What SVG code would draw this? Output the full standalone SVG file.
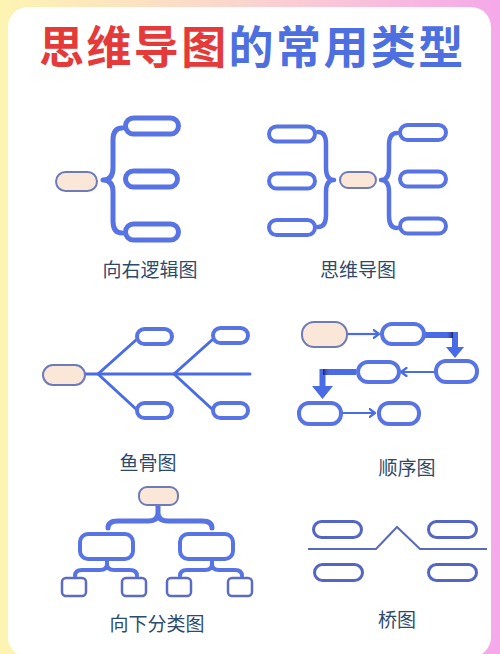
<svg xmlns="http://www.w3.org/2000/svg" width="500" height="654" viewBox="0 0 500 654">
  <defs>
    <linearGradient id="bg" x1="0" y1="0" x2="1" y2="0">
      <stop offset="0" stop-color="#fdf4b2"/>
      <stop offset="0.5" stop-color="#fbd3cf"/>
      <stop offset="1" stop-color="#f5a8ea"/>
    </linearGradient>
    <linearGradient id="shadeR" x1="0" y1="0" x2="1" y2="0">
      <stop offset="0" stop-color="#4a6be6" stop-opacity="0"/>
      <stop offset="1" stop-color="#1b2566"/>
    </linearGradient>
    <linearGradient id="shadeL" x1="1" y1="0" x2="0" y2="0">
      <stop offset="0" stop-color="#4a6be6" stop-opacity="0"/>
      <stop offset="1" stop-color="#1b2566"/>
    </linearGradient>
    <marker id="open" markerWidth="8" markerHeight="10" refX="6.5" refY="5" orient="auto" markerUnits="userSpaceOnUse">
      <path d="M1,1 L6.5,5 L1,9" fill="none" stroke="#4a6be6" stroke-width="2.2" stroke-linecap="round" stroke-linejoin="round"/>
    </marker>
  </defs>
  <style>
    .thick { fill: #ffffff; stroke: #5874e4; stroke-width: 5; }
    .mid { fill: #ffffff; stroke: #5874e4; stroke-width: 4; }
    .thin { fill: #ffffff; stroke: #5a6cc6; stroke-width: 2.5; }
    .bridge { fill: #ffffff; stroke: #5566c2; stroke-width: 3; }
    .peach { fill: #fbe7d8; stroke: #6e7bb8; stroke-width: 2; }
    .brace { fill: none; stroke: #5874e4; stroke-width: 5; stroke-linecap: round; stroke-linejoin: round; }
    .line { fill: none; stroke: #4a6be6; stroke-width: 3; stroke-linecap: round; }
    .arrow { fill: none; stroke: #4a6be6; stroke-width: 2.2; }
    .fat { fill: none; stroke: #4a6be6; stroke-width: 6; }
    .head { fill: #4a6be6; }
    .label { font-family: "Noto Sans CJK SC", "Noto Sans", sans-serif; font-size: 19px; fill: #2d4a6c; text-anchor: middle; }
    .title { font-family: "Noto Sans CJK SC", "Noto Sans", sans-serif; font-size: 45px; font-weight: bold; }
  </style>

  <rect x="0" y="0" width="500" height="654" fill="url(#bg)"/>
  <rect x="8" y="7" width="483" height="650" rx="20" fill="#ffffff"/>

  <text class="title" x="39" y="64" letter-spacing="2.4"><tspan fill="#e53a3a">思维导图</tspan><tspan fill="#4d6fe0">的常用类型</tspan></text>

  <!-- Diagram 1: 向右逻辑图 -->
  <g id="right-logic">
    <rect class="peach" x="56" y="172" width="41" height="19" rx="9.5"/>
    <path class="brace" d="M122,128 Q113,128 113,140 L113,168 Q113,180 103,180 Q113,180 113,192 L113,221 Q113,233 122,233"/>
    <rect class="thick" x="125.5" y="118" width="53" height="16" rx="8"/>
    <rect class="thick" x="125.5" y="171" width="52" height="16" rx="8"/>
    <rect class="thick" x="125.5" y="224" width="53" height="16" rx="8"/>
    <text class="label" x="150" y="277">向右逻辑图</text>
  </g>

  <!-- Diagram 2: 思维导图 -->
  <g id="mind-map">
    <rect class="mid" x="269" y="126.5" width="46" height="15" rx="7.5"/>
    <rect class="mid" x="269" y="173.5" width="46" height="15" rx="7.5"/>
    <rect class="mid" x="269" y="220" width="46" height="15" rx="7.5"/>
    <path class="brace" style="stroke-width:4.5" d="M318,132 Q326,132 326,144 L326,168 Q326,180 334,180 Q326,180 326,192 L326,215 Q326,227 318,227"/>
    <rect class="peach" x="340" y="172" width="36" height="16" rx="8"/>
    <path class="brace" style="stroke-width:4.5" d="M397,133 Q389,133 389,145 L389,168 Q389,180 381,180 Q389,180 389,192 L389,216 Q389,228 397,228"/>
    <rect class="mid" x="400" y="125" width="46" height="15" rx="7.5"/>
    <rect class="mid" x="400" y="171.5" width="46" height="15" rx="7.5"/>
    <rect class="mid" x="400" y="218.5" width="46" height="15" rx="7.5"/>
    <text class="label" x="358" y="277">思维导图</text>
  </g>

  <!-- Diagram 3: 鱼骨图 -->
  <g id="fishbone">
    <g class="connectors">
      <path class="line" d="M85,374 L250,374"/>
      <path class="line" d="M98,374 L136,340 M98,374 L136,409"/>
      <path class="line" d="M174,374 L212,340 M174,374 L212,409"/>
    </g>
    <rect class="peach" x="43" y="365" width="42" height="20" rx="10"/>
    <rect class="mid" x="137" y="329" width="35" height="15" rx="7.5"/>
    <rect class="mid" x="137" y="403" width="35" height="15" rx="7.5"/>
    <rect class="mid" x="213" y="328" width="35" height="15" rx="7.5"/>
    <rect class="mid" x="213" y="403" width="35" height="15" rx="7.5"/>
    <text class="label" x="148" y="470">鱼骨图</text>
  </g>

  <!-- Diagram 4: 顺序图 -->
  <g id="sequence">
    <g class="connectors">
      <path class="arrow" d="M347,334 L379,334" marker-end="url(#open)"/>
      <path class="fat" d="M425,335 L455,335 L455,349"/>
      <rect x="446" y="332" width="7" height="6" fill="url(#shadeR)"/>
      <polygon class="head" points="446,347 464,347 455,358"/>
      <path class="arrow" d="M434,372 L401,372" marker-end="url(#open)"/>
      <path class="fat" d="M356,372 L322.5,372 L322.5,388"/>
      <rect x="323" y="369" width="7" height="6" fill="url(#shadeL)"/>
      <polygon class="head" points="312,386 333,386 322.5,399"/>
      <path class="arrow" d="M342,413 L375,413" marker-end="url(#open)"/>
    </g>
    <rect class="peach" x="302" y="322" width="45" height="25" rx="12"/>
    <rect class="mid" x="382" y="324" width="42" height="20" rx="10"/>
    <rect class="mid" x="436" y="361" width="41" height="21" rx="10"/>
    <rect class="mid" x="358" y="362" width="41" height="20" rx="10"/>
    <rect class="mid" x="299" y="403" width="42" height="21" rx="10"/>
    <rect class="mid" x="379" y="403" width="40" height="21" rx="10"/>
    <text class="label" x="407" y="475">顺序图</text>
  </g>

  <!-- Diagram 5: 向下分类图 -->
  <g id="tree">
    <g class="connectors">
      <path class="brace" d="M158,505 L158,513 Q158,521 148,521 L118,521 Q108,521 108,528 M158,513 Q158,521 168,521 L202,521 Q212,521 212,528"/>
      <path class="brace" style="stroke-width:4" d="M107,560 L107,564 Q107,570 100,570 L82,570 Q75,570 75,576 M107,564 Q107,570 114,570 L130,570 Q137,570 137,576"/>
      <path class="brace" style="stroke-width:4" d="M212,560 L212,564 Q212,570 205,570 L187,570 Q180,570 180,576 M212,564 Q212,570 219,570 L235,570 Q242,570 242,576"/>
    </g>
    <rect class="peach" x="139" y="487" width="39" height="18" rx="8"/>
    <rect class="mid" x="80" y="534" width="53" height="25" rx="8"/>
    <rect class="mid" x="180" y="534" width="53" height="25" rx="8"/>
    <rect class="thin" x="62" y="578" width="24" height="18" rx="4"/>
    <rect class="thin" x="122" y="578" width="24" height="18" rx="4"/>
    <rect class="thin" x="167" y="578" width="24" height="18" rx="4"/>
    <rect class="thin" x="228" y="578" width="24" height="18" rx="4"/>
    <text class="label" x="157" y="631">向下分类图</text>
  </g>

  <!-- Diagram 6: 桥图 -->
  <g id="bridge">
    <g class="connectors">
      <path fill="none" stroke="#5a6ab8" stroke-width="2" stroke-linejoin="miter" d="M308,549 L376,549 L397,527 L420,549 L487,549"/>
    </g>
    <rect class="bridge" x="313.5" y="521.5" width="48" height="16" rx="8"/>
    <rect class="bridge" x="428.5" y="521.5" width="48" height="16" rx="8"/>
    <rect class="bridge" x="314.5" y="564.5" width="48" height="16" rx="8"/>
    <rect class="bridge" x="428.5" y="564.5" width="48" height="16" rx="8"/>
    <text class="label" x="397" y="627">桥图</text>
  </g>
</svg>
